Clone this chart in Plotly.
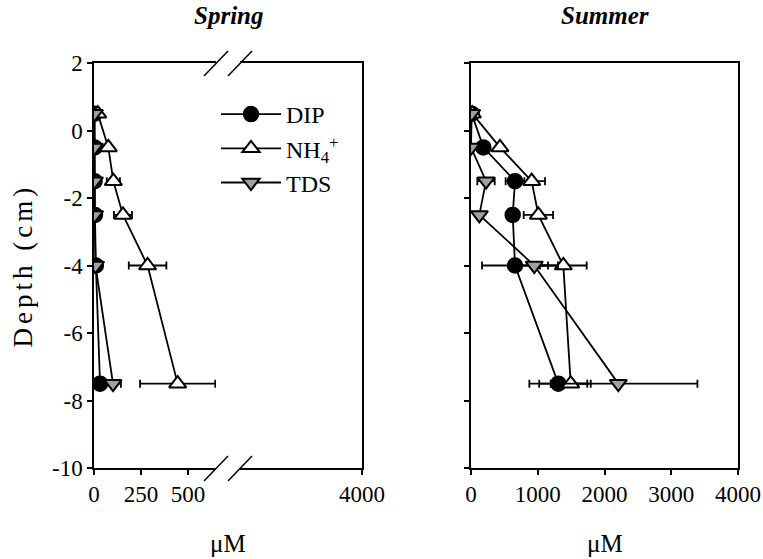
import plotly.graph_objects as go

W, H = 763, 559
FONT = "Liberation Serif, Times New Roman, serif"

# ---------------- data ----------------
depth = [0.5, -0.5, -1.5, -2.5, -4, -7.5]

dip_spring = [3, 3, 3, 5, 10, 32]
dip_spring_err = [1, 1, 1, 2, 4, 10]
nh4_spring = [20, 76, 103, 154, 285, 445]
nh4_spring_err = [5, 10, 35, 48, 100, 200]
tds_spring = [2, 2, 2, 3, 8, 101]
tds_spring_err = [1, 1, 1, 1, 3, 42]

dip_summer = [10, 185, 659, 625, 659, 1308]
dip_summer_err = [0, 30, 140, 40, 494, 434]
nh4_summer = [20, 434, 909, 1009, 1383, 1494]
nh4_summer_err = [0, 40, 200, 220, 350, 300]
tds_summer = [10, 0, 225, 125, 948, 2207]
tds_summer_err = [0, 0, 130, 30, 355, 1185]

y_ticks = [2, 0, -2, -4, -6, -8, -10]
y_ticktext = ["2", "0", "-2", "-4", "-6", "-8", "-10"]
spring_low_ticks = [0, 250, 500]
spring_high_ticks = [4000]
summer_ticks = [0, 1000, 2000, 3000, 4000]

series_names = ["DIP", "NH<sub>4</sub><sup>+</sup>", "TDS"]

# ---------------- geometry (pixels) ----------------
def px(x):
    return x / W

def py(y):
    return 1 - y / H

top, bot = 63, 468
sp_l, sp_b1, sp_b2, sp_r = 94, 216, 240, 362
su_l, su_r = 471, 738
scale_sp = 250 / 47.0  # uM per pixel in spring low part
low_max = (sp_b1 - sp_l) * scale_sp
high_min = 4000 - (sp_r - sp_b2) * scale_sp

fig = go.Figure()

styles = [
    dict(symbol="circle", color="black", line=dict(color="black", width=1.5)),
    dict(symbol="triangle-up", color="white", line=dict(color="black", width=2)),
    dict(symbol="triangle-down", color="#a0a0a0", line=dict(color="black", width=2)),
]

spring = [(dip_spring, dip_spring_err), (nh4_spring, nh4_spring_err), (tds_spring, tds_spring_err)]
summer = [(dip_summer, dip_summer_err), (nh4_summer, nh4_summer_err), (tds_summer, tds_summer_err)]

for i, ((xv, xe), st) in enumerate(zip(spring, styles)):
    fig.add_trace(go.Scatter(
        x=xv, y=depth, mode="lines+markers", name=series_names[i],
        xaxis="x", yaxis="y",
        line=dict(color="black", width=1.8),
        marker=dict(size=15, **st),
        error_x=dict(type="data", array=xe, visible=True, color="black", thickness=1.8, width=4),
        showlegend=True,
    ))

# empty trace so the upper part of the broken spring axis is drawn
fig.add_trace(go.Scatter(x=[], y=[], xaxis="x2", yaxis="y2", showlegend=False, hoverinfo="skip"))

for i, ((xv, xe), st) in enumerate(zip(summer, styles)):
    fig.add_trace(go.Scatter(
        x=xv, y=depth, mode="lines+markers", name=series_names[i],
        xaxis="x3", yaxis="y3",
        line=dict(color="black", width=1.8),
        marker=dict(size=15, **st),
        error_x=dict(type="data", array=xe, visible=True, color="black", thickness=1.8, width=4),
        showlegend=False,
    ))

tickfont = dict(family=FONT, size=23, color="black")
common_y = dict(range=[-10, 2], domain=[py(bot), py(top)], showgrid=False, zeroline=False,
                showline=True, linecolor="black", linewidth=1.5, automargin=False)
common_x = dict(showgrid=False, zeroline=False, showline=True, linecolor="black", linewidth=1.5,
                ticks="outside", ticklen=5, tickwidth=1.5, tickcolor="black", tickfont=tickfont,
                automargin=False)

fig.update_layout(
    template="none",
    width=W, height=H,
    margin=dict(l=0, r=0, t=0, b=0, pad=0),
    paper_bgcolor="white", plot_bgcolor="white",
    font=dict(family=FONT, color="black"),
    xaxis=dict(domain=[px(sp_l), px(sp_b1)], range=[0, low_max], anchor="y",
               tickvals=spring_low_ticks, ticktext=[str(v) for v in spring_low_ticks],
               mirror=True, **common_x),
    xaxis2=dict(domain=[px(sp_b2), px(sp_r)], range=[high_min, 4000], anchor="y2",
                tickvals=spring_high_ticks, ticktext=[str(v) for v in spring_high_ticks],
                mirror=True, **common_x),
    yaxis=dict(anchor="x", tickvals=y_ticks, ticktext=y_ticktext, ticks="outside", ticklen=5,
               tickwidth=1.5, tickcolor="black", tickfont=tickfont, **common_y),
    yaxis2=dict(anchor="x2", side="right", showticklabels=False, ticks="", **common_y),
    xaxis3=dict(domain=[px(su_l), px(su_r)], range=[0, 4000], anchor="y3",
                tickvals=summer_ticks, ticktext=[str(v) for v in summer_ticks],
                mirror=True, **common_x),
    yaxis3=dict(anchor="x3", tickvals=y_ticks, ticktext=y_ticktext, showticklabels=False,
                ticks="outside", ticklen=5, tickwidth=1.5, tickcolor="black", mirror=True, **common_y),
    legend=dict(x=px(216), y=py(92), xanchor="left", yanchor="top",
                font=dict(family=FONT, size=24, color="black"),
                bgcolor="rgba(0,0,0,0)", borderwidth=0, itemwidth=60, tracegroupgap=0),
    showlegend=True,
)

# axis break marks
shapes = []
for yc in (bot, top):
    for xc in (sp_b1, sp_b2):
        shapes.append(dict(type="line", xref="paper", yref="paper",
                           x0=px(xc - 12), y0=py(yc + 13), x1=px(xc + 12), y1=py(yc - 12),
                           line=dict(color="black", width=1.5)))
fig.update_layout(shapes=shapes)

def note(text, x, y, size, angle=0):
    return dict(text=text, x=px(x), y=py(y), xref="paper", yref="paper",
                xanchor="center", yanchor="middle", textangle=angle,
                showarrow=False, font=dict(family=FONT, size=size, color="black"))

ann = [
    note("<b><i>Spring</i></b>", (sp_l + sp_r) / 2, 16, 25),
    note("<b><i>Summer</i></b>", (su_l + su_r) / 2, 16, 25),
    note("μM", (sp_l + sp_r) / 2, 543, 25),
    note("μM", (su_l + su_r) / 2, 543, 25),
    note("<span style='letter-spacing:4px'>Depth (cm)</span>", 22, (top + bot) / 2, 27, -90),
]
fig.update_layout(annotations=ann)

fig.write_html("out.html")
